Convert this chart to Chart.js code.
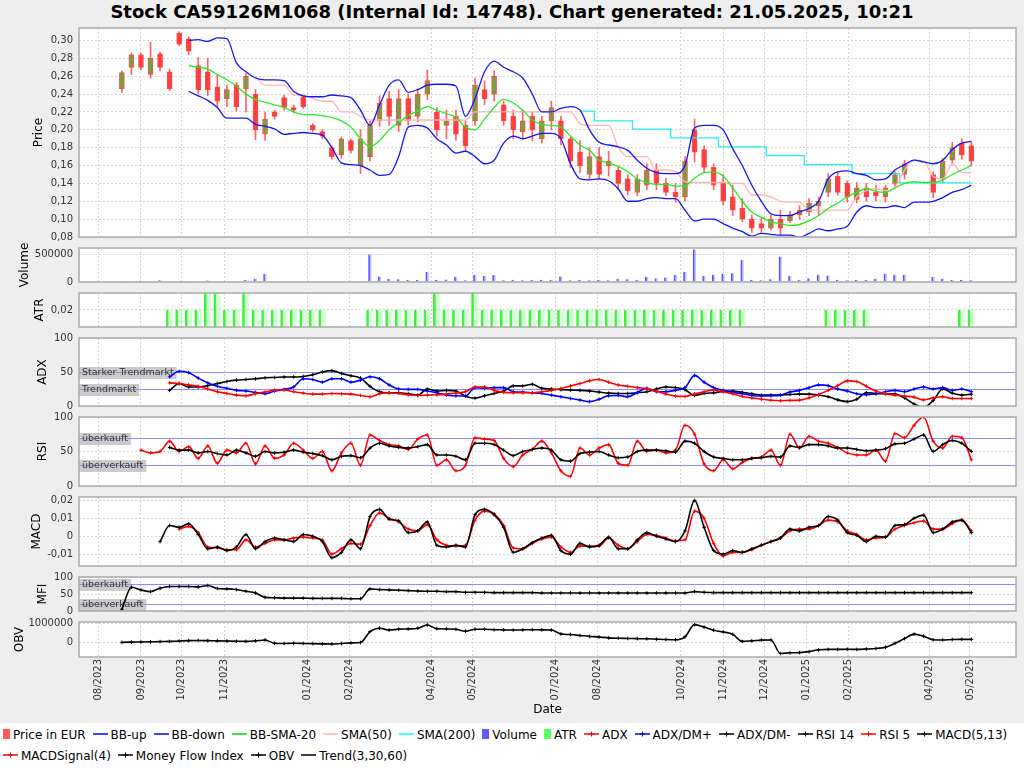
<!DOCTYPE html>
<html><head><meta charset="utf-8">
<script src="https://cdn.jsdelivr.net/npm/chart.js@4.4.1/dist/chart.umd.min.js"></script>
<style>
html,body{margin:0;padding:0;background:#eeeeee;width:1024px;height:768px;overflow:hidden;font-family:"DejaVu Sans",sans-serif;}
#title{position:absolute;left:0;top:0;width:1024px;text-align:center;font-weight:bold;font-size:18px;line-height:24px;color:#000;}
canvas.pc{position:absolute;left:0;}
#legend{position:absolute;left:0;top:723px;width:1024px;height:45px;background:#fff;font-size:12px;color:#000;}
.row{position:absolute;left:3px;white-space:nowrap;height:16px;line-height:16px;}
.it{display:inline-block;margin-right:7px;vertical-align:middle;}
.it svg{vertical-align:middle;margin-right:3px;position:relative;top:-1px;}
</style></head><body>
<div id="title">Stock CA59126M1068 (Internal Id: 14748). Chart generated: 21.05.2025, 10:21</div>
<div id="panels"></div>
<div id="legend"><div class="row" id="row1" style="top:3px"></div><div class="row" id="row2" style="top:24px"></div></div>
<script>
// ---------- data (weekly readings) ----------
const dates = ['2023-08-18','2023-08-25','2023-09-01','2023-09-08','2023-09-15','2023-09-22','2023-09-29','2023-10-06','2023-10-13','2023-10-20','2023-10-27','2023-11-03','2023-11-10','2023-11-17','2023-11-24','2023-12-01','2023-12-08','2023-12-15','2023-12-22','2023-12-29','2024-01-05','2024-01-12','2024-01-19','2024-01-26','2024-02-02','2024-02-09','2024-02-16','2024-02-23','2024-03-01','2024-03-08','2024-03-15','2024-03-22','2024-03-29','2024-04-05','2024-04-12','2024-04-19','2024-04-26','2024-05-03','2024-05-10','2024-05-17','2024-05-24','2024-05-31','2024-06-07','2024-06-14','2024-06-21','2024-06-28','2024-07-05','2024-07-12','2024-07-19','2024-07-26','2024-08-02','2024-08-09','2024-08-16','2024-08-23','2024-08-30','2024-09-06','2024-09-13','2024-09-20','2024-09-27','2024-10-04','2024-10-11','2024-10-18','2024-10-25','2024-11-01','2024-11-08','2024-11-15','2024-11-22','2024-11-29','2024-12-06','2024-12-13','2024-12-20','2024-12-27','2025-01-03','2025-01-10','2025-01-17','2025-01-24','2025-01-31','2025-02-07','2025-02-14','2025-02-21','2025-02-28','2025-03-07','2025-03-14','2025-03-21','2025-03-28','2025-04-04','2025-04-11','2025-04-18','2025-04-25','2025-05-02'];

const openP = [.246,.270,.284,.262,.285,.265,.308,.302,.272,.265, .248,.235,.250,.246,.240,.195,.220,.236,.225,.237, .205,.198,.180,.172,.188,.160,.170,.210,.235,.205, .235,.215,.240,.220,.205,.215,.205,.210,.245,.240, .228,.215,.198,.215,.190,.210,.210,.190,.175,.150, .170,.160,.155,.145,.130,.138,.155,.140,.130,.125, .200,.178,.158,.140,.125,.112,.100,.095,.090,.100, .098,.105,.108,.115,.130,.148,.140,.122,.135,.130, .125,.140,.150,null,null,.150,.145,.166,.185,.182];
const highP = [.266,.286,.286,.298,.287,.268,.310,.304,.281,.280, .262,.250,.253,.263,.245,.220,.222,.239,.228,.238, .207,.200,.182,.192,.190,.200,.210,.238,.243,.245, .240,.245,.267,.225,.222,.222,.210,.258,.255,.266, .232,.222,.222,.220,.215,.232,.215,.192,.188,.180, .180,.176,.158,.150,.150,.162,.162,.146,.140,.170, .212,.182,.162,.150,.138,.123,.105,.101,.105,.110, .109,.115,.123,.125,.151,.152,.143,.141,.140,.138, .138,.153,.166,null,null,.153,.168,.186,.190,.187];
const lowP = [.242,.262,.267,.258,.266,.244,.294,.284,.240,.238, .226,.226,.221,.220,.189,.188,.212,.222,.219,.224, .198,.190,.167,.168,.174,.151,.165,.204,.205,.198, .205,.209,.234,.193,.190,.188,.176,.205,.228,.232, .205,.190,.190,.188,.185,.200,.183,.158,.152,.145, .145,.148,.133,.127,.126,.133,.133,.126,.119,.120, .164,.152,.133,.116,.104,.097,.085,.085,.088,.082, .096,.100,.104,.104,.125,.127,.119,.118,.120,.120, .119,.137,.145,null,null,.124,.141,.163,.167,.160];
const closeP = [.264,.284,.270,.280,.270,.246,.296,.288,.245,.245, .232,.245,.226,.260,.200,.212,.215,.225,.222,.226, .200,.193,.170,.190,.177,.190,.205,.230,.215,.235, .210,.240,.255,.200,.210,.195,.182,.250,.235,.260, .210,.200,.210,.200,.210,.225,.190,.165,.160,.170, .150,.165,.140,.132,.145,.155,.140,.130,.125,.165, .175,.158,.138,.120,.110,.100,.090,.090,.100,.090, .105,.110,.118,.120,.145,.130,.125,.135,.125,.126, .135,.150,.162,null,null,.130,.165,.180,.172,.165];

const bbUp = [null,null,null,null,null,null,null,.300,.301,.299, .303,.302,.275,.265,.258,.256,.256,.255,.243,.238, .237,.237,.239,.238,.236,.222,.205,.228,.250,.256, .242,.245,.250,.251,.251,.249,.215,.235,.265,.277, .270,.265,.258,.240,.220,.220,.224,.226,.222,.200, .186,.183,.181,.177,.166,.157,.152,.151,.151,.160, .202,.205,.205,.200,.179,.160,.138,.120,.106,.104, .104,.108,.112,.120,.145,.153,.154,.151,.149,.144, .145,.155,.161,.166,.164,.162,.166,.178,.185,.187];
const bbDown = [null,null,null,null,null,null,null,.243,.238,.233, .225,.213,.213,.213,.206,.204,.201,.195,.196,.197, .196,.194,.180,.163,.161,.160,.155,.149,.150,.170, .203,.205,.202,.190,.183,.174,.176,.170,.162,.166, .185,.193,.190,.193,.196,.196,.190,.162,.145,.144, .145,.143,.134,.120,.120,.123,.124,.123,.123,.110, .098,.100,.100,.095,.090,.086,.081,.084,.083,.082, .082,.080,.084,.089,.087,.089,.092,.108,.115,.113, .113,.115,.113,.119,.119,.120,.124,.130,.133,.138];
const bbSma20 = [null,null,null,null,null,null,null,.272,.270,.268, .262,.256,.249,.240,.234,.231,.228,.225,.220,.217, .217,.216,.214,.210,.203,.190,.181,.188,.200,.208, .216,.221,.226,.222,.218,.214,.203,.200,.212,.225, .234,.230,.222,.211,.206,.205,.203,.193,.183,.177, .166,.163,.159,.153,.145,.141,.139,.139,.137,.137, .146,.152,.153,.148,.135,.120,.108,.102,.097,.095, .093,.094,.098,.104,.112,.118,.125,.130,.134,.131, .130,.135,.140,.142,.141,.141,.144,.150,.155,.160];
const sma50 = [null,null,null,null,null,null,null,null,null,null, null,null,null,null,.260,.250,.250,.250,.239,.239, .235,.232,.232,.220,.220,.215,.211,.211,.211,.211, .211,.211,.211,.211,.211,.211,.211,.220,.220,.220, .220,.220,.220,.220,.220,.220,.220,.220,.207,.205, .205,.205,.181,.170,.170,.170,.155,.155,.153,.142, .141,.141,.141,.141,.140,.140,.127,.127,.125,.120, .119,.119,.110,.110,.110,.110,.110,.125,.132,.134, .132,.135,.155,.166,.165,.148,.145,.162,.152,.152];
const sma200 = [null,null,null,null,null,null,null,null,null,null, null,null,null,null,null,null,null,null,null,null, null,null,null,null,null,null,null,null,null,null, null,null,null,null,null,null,null,null,null,null, null,null,null,null,null,null,null,null,.221,.221, .210,.210,.210,.210,.2007,.2007,.2007,.2007,.191,.191, .191,.191,.191,.181,.181,.181,.181,.181,.171,.171, .171,.171,.161,.161,.161,.161,.161,.151,.151,.151, .151,.151,.1405,.1405,.1405,.1405,.1405,.1405,.1405,.1405];

const volume = [18000,15000,20000,10000,30000,12000,15000,20000,15000,25000, 12000,10000,15000,36000,60000,150000,15000,12000,10000,15000, 10000,8000,12000,15000,10000,20000,500000,100000,60000,50000, 40000,35000,180000,40000,45000,95000,30000,130000,110000,125000, 30000,40000,30000,35000,40000,40000,100000,30000,35000,30000, 40000,30000,60000,50000,40000,89000,70000,80000,130000,180000, 590000,110000,130000,150000,160000,400000,40000,30000,50000,460000, 113000,40000,70000,130000,120000,40000,30000,40000,35000,60000, 150000,130000,130000,null,null,89000,60000,40000,35000,30000];
const atr = [null,null,null,null,null,.02,.02,.02,.02,.03, .03,.02,.02,.03,.02,.02,.02,.02,.02,.02, .02,.02,.0105,null,.0105,.0105,.02,.02,.02,.02, .02,.02,.02,.03,.02,.02,.02,.03,.02,.02, .02,.02,.02,.02,.02,.02,.02,.02,.02,.02, .02,.02,.02,.02,.02,.02,.02,.02,.02,.02, .02,.02,.02,.02,.02,.02,.0105,.0105,.0105,.0105, .0105,.0105,.0105,.0105,.02,.02,.02,.02,.02,.0105, .0105,.0105,.0105,null,null,.0105,.0105,.0105,.02,.02];

const adx = [null,null,null,null,null,34,33,31,29,25, 21,18.5,16,15,18,20.5,23.5,23.5,21,19, 17.5,17.5,18.4,18,17.5,15.5,13.6,18,19.5,18.5, 16.5,15.5,16,16.5,17.5,19,21,28,28,23, 20,19.4,19.4,19.4,21,23,25.7,29.5,33,37, 39,35,31,29,27,25.5,22,17.5,14.5,14, 18,21,23.5,21,18,14,12,10,8.5,7.8, 8.2,8.7,12,17,23,30,37,36,29,22, 18,16,14.5,13,9,12,13.6,11,11,11];
const dmPlus = [null,null,null,null,null,43,51,49,41,34, 29,26,23,22,20,18,22,24.5,28,40, 39,35,40,40,35,38,43,40,31,25, 24.5,24.5,22,19.5,16,15,14.6,27,26,27, 27,21,20.5,19.5,18.5,16,13.6,11,8.7,6.5, 10,15,15.5,13.6,20,26,21,21,23,27, 45,35,27,23,20,18,15.5,14.6,15,16, 20.5,23,27,31,30,25,22,18,16.5,18, 21,23,21,25,28,25,27,23,25,21];
const dmMinus = [null,null,null,null,null,23,33,28,28,30, 33,36,38,39,40,41.5,42,42.7,42.7,43.5, 46,50,52,48,44.5,41,29,21,19.5,19.4, 18,16,25,22,23,22,14.5,11.5,15,18.5, 22,29.6,29.5,32,26,25,24,23.5,23,22, 20.5,19,18.4,18.4,19.5,21,25,28,27,24, 15.5,18.5,19.4,21.5,22,20,18,16,16,16, 17,17.5,17.5,16,13.6,9,6.5,10,19.5,18.4, 18,17.5,12,3,-2,8,25,19,16,17.5];

const rsi5 = [null,null,52,48,50,65,50,57,40,58, 33,52,48,62,32,58,40,45,62,52, 40,50,22,48,62,30,74,66,60,58, 53,68,74,30,38,22,30,70,68,66, 40,28,45,53,65,48,22,14,55,45, 55,60,33,30,65,50,52,48,52,88, 75,32,22,38,25,34,40,42,52,30, 75,55,72,65,62,56,48,45,45,52, 36,76,70,88,100,65,55,72,70,38];
const rsi14 = [null,null,null,null,null,56,52,52,48,50, 47,45,52,48,43,50,48,49,52,49, 47,44,38,43,44,41,55,62,58,56, 55,57,60,45,45,43,38,62,62,60, 52,44,50,53,55,52,38,36,47,49, 50,45,41,42,50,52,52,51,49,65, 62,50,42,40,38,38,40,41,43,42, 58,56,60,60,58,55,55,53,51,52, 54,61,62,68,74,50,60,66,62,50];

const macd = [null,null,null,null,-0.003,0.006,0.005,0.007,0.001,-0.007, -0.006,-0.008,-0.006,0.001,-0.007,-0.003,-0.001,-0.002,-0.003,0.001, 0,-0.003,-0.012,-0.009,-0.002,-0.007,0.011,0.015,0.0095,0.0086, 0.002,0.003,0.008,-0.005,-0.006,-0.005,-0.006,0.012,0.015,0.012, 0.005,-0.009,-0.007,-0.0035,-0.001,0.0005,-0.008,-0.01,-0.004,-0.006, -0.005,-0.0005,-0.007,-0.007,-0.002,0.002,0,-0.0015,-0.003,0.003, 0.020,0.005,-0.008,-0.01,-0.008,-0.009,-0.007,-0.005,-0.003,-0.001, 0.004,0.003,0.005,0.006,0.011,0.009,0.002,0.0005,-0.003,0, -0.0005,0.006,0.0065,0.01,0.0118,0.002,0.004,0.008,0.009,0.002];
const macdSignal = [null,null,null,null,null,null,0.004,0.0055,0.002,-0.006, -0.0065,-0.0075,-0.0075,-0.002,-0.006,-0.004,-0.002,-0.002,-0.001,-0.0005, -0.001,-0.002,-0.01,-0.007,-0.004,-0.0045,0.006,0.013,0.01,0.008, 0.004,0.003,0.0065,-0.002,-0.005,-0.0055,-0.005,0.009,0.014,0.0125, 0.006,-0.0065,-0.007,-0.004,-0.0015,-0.0005,-0.006,-0.009,-0.0055,-0.0055, -0.0055,-0.001,-0.005,-0.007,-0.003,0.001,0.0005,-0.001,-0.0025,-0.002, 0.014,0.01,-0.004,-0.011,-0.009,-0.009,-0.0075,-0.005,-0.003,-0.001, 0.003,0.004,0.004,0.006,0.009,0.008,0.003,0.001,-0.002,-0.001, -0.0005,0.004,0.006,0.0075,0.0085,0.004,0.004,0.007,0.009,0.003];

const mfi = [5,70,62,57,67,72,72,72,71,75, 66,65,63,58,53,40,39,38,38,38, 37,37,37,37,36,36,65,63,62,61, 60,59,58,58,57,57,55,55,55,54, 54,54,54,54,53,53,53,53,53,53, 53,53,53,53,53,53,53,53,53,53, 57,55,54,54,54,54,54,54,54,54, 54,54,54,54,54,54,54,54,54,54, 54,54,54,54,54,54,54,54,54,54];
const obv = [0,10000,20000,30000,40000,50000,70000,90000,100000,90000, 80000,70000,60000,50000,80000,130000,-50000,-60000,-50000,-60000, -70000,-80000,-90000,-60000,-30000,-10000,580000,760000,660000,710000, 720000,760000,930000,730000,720000,700000,600000,700000,700000,680000, 670000,660000,670000,680000,670000,660000,450000,420000,370000,320000, 290000,240000,220000,210000,200000,190000,170000,150000,140000,300000, 950000,820000,650000,560000,430000,50000,80000,120000,130000,-600000, -560000,-550000,-500000,-400000,-380000,-380000,-370000,-380000,-360000,-330000, -260000,-50000,200000,440000,330000,140000,130000,150000,160000,160000];

// tick labels
const tickMonths = ['2023-08','2023-09','2023-10','2023-11','2024-01','2024-02','2024-04','2024-05','2024-07','2024-08','2024-10','2024-11','2024-12','2025-01','2025-02','2025-04','2025-05'];
const priceTicks = [0.08,0.10,0.12,0.14,0.16,0.18,0.20,0.22,0.24,0.26,0.28,0.30];
const volumeTicks = [0,500000];
const atrTicks = [0.02];
const pctTicks = [0,50,100];
const macdTicks = [-0.01,0,0.01,0.02];
const obvTicks = [0,1000000];

// ---------- helpers ----------
const FONT = '"DejaVu Sans", sans-serif';
Chart.defaults.font.family = FONT;
Chart.defaults.color = '#333';
const DAY = 864e5;
const toMs = s => { const p = s.split('-').map(Number); return Date.UTC(p[0], p[1]-1, p[2] || 1); };
const xs = dates.map(toMs);
const X_MIN = toMs('2023-08-01') - 14.45*DAY;
const X_MAX = toMs('2025-05-01') + 33.75*DAY;
const pts = arr => xs.map((x,i) => ({x, y: arr[i]}));
const comma = (v,d) => v === 0 ? '0' : v.toFixed(d).replace('.', ',');

function makeDeco(refs){
  return {
    id:'deco',
    beforeDraw(chart){ const {ctx, chartArea:a} = chart; ctx.save(); ctx.fillStyle='#fff'; ctx.fillRect(a.left,a.top,a.right-a.left,a.bottom-a.top); ctx.restore(); },
    beforeDatasetsDraw(chart){
      if(!refs) return;
      const {ctx, chartArea:a} = chart; const y = chart.scales.y;
      ctx.save();
      refs.forEach(r => {
        const py = Math.round(y.getPixelForValue(r.v)) + 0.5;
        ctx.strokeStyle = '#8c8cff'; ctx.lineWidth = 1;
        ctx.beginPath(); ctx.moveTo(a.left, py); ctx.lineTo(a.right, py); ctx.stroke();
        ctx.font = '9.5px ' + FONT;
        const w = ctx.measureText(r.t).width;
        ctx.fillStyle = 'rgba(160,160,160,0.55)';
        ctx.fillRect(a.left, py - 5.5, w + 6, 12);
        ctx.fillStyle = '#333'; ctx.textBaseline = 'middle'; ctx.textAlign = 'left';
        ctx.fillText(r.t, a.left + 3, py + 0.5);
      });
      ctx.restore();
    },
    afterDraw(chart){ const {ctx, chartArea:a} = chart; ctx.save(); ctx.strokeStyle='#ababab'; ctx.lineWidth=1.5; ctx.strokeRect(a.left, a.top, a.right-a.left, a.bottom-a.top); ctx.restore(); }
  };
}

function xScale(last){
  return {
    type:'linear', min:X_MIN, max:X_MAX, offset:false,
    afterBuildTicks(s){ s.ticks = tickMonths.map(m => ({value: toMs(m)})); },
    ticks:{ display:last, autoSkip:false, maxRotation:90, minRotation:90, padding:2, font:{size:10}, color:'#333',
      callback(v){ const d = new Date(v); return String(d.getUTCMonth()+1).padStart(2,'0') + '/' + d.getUTCFullYear(); } },
    grid:{ color:'#d4d4d4', drawTicks:false, offset:false },
    border:{ display:false, dash:[2,2] },
    title:{ display:last, text:'Date', color:'#000', font:{size:12}, padding:{top:0, bottom:5} },
    afterFit(s){ s.height = last ? 65 : 0; }
  };
}
function yScale(p){
  return {
    type:'linear', min:p.min, max:p.max,
    afterBuildTicks(s){ s.ticks = p.ticks.map(v => ({value:v})); },
    ticks:{ padding:6, font:{size:10}, color:'#333', callback: v => p.fmt(v) },
    grid:{ color:'#d4d4d4', drawTicks:false },
    border:{ display:false, dash:[2,2] },
    title:{ display:true, text:p.title, color:'#000', font:{size:12}, padding:{top:p.tp, bottom:0} },
    afterFit(s){ s.width = 79; s.paddingTop = 0; s.paddingBottom = 0; }
  };
}
function panel(p){
  const c = document.createElement('canvas');
  const top = p.top - 8;
  const h = p.last ? (722 - top) : (p.bottom - p.top + 16);
  c.width = 1024; c.height = h; c.className = 'pc'; c.style.top = top + 'px';
  document.getElementById('panels').appendChild(c);
  new Chart(c, {
    type:'line',
    data:{ datasets: p.datasets },
    options:{
      responsive:false, animation:false, devicePixelRatio:1,
      layout:{ padding:{ left:0, right:8, top:8, bottom: p.last ? 0 : 8 } },
      plugins:{ legend:{display:false}, tooltip:{enabled:false} },
      scales:{ x: xScale(!!p.last), y: yScale(p) }
    },
    plugins:[ makeDeco(p.refs) ]
  });
}
const line = (label, arr, color, w, extra) => Object.assign({type:'line', label, data:pts(arr), borderColor:color, backgroundColor:color, borderWidth:w, pointRadius:0, cubicInterpolationMode:'monotone', fill:false, order:1}, extra || {});
const ind = (label, arr, color) => line(label, arr, color, 1.6, {pointRadius:1.8, pointStyle:'cross', pointBorderWidth:1, pointBorderColor:color});

// candles
const idx = xs.map((x,i) => i).filter(i => openP[i] != null);
const wicks = idx.map(i => ({x:xs[i], y:[lowP[i], highP[i]]}));
const bodies = idx.map(i => ({x:xs[i], y:[Math.min(openP[i],closeP[i]), Math.max(openP[i],closeP[i])]}));
const bodyColors = idx.map(i => closeP[i] > openP[i] ? '#74a040' : 'rgba(255,50,50,0.85)');

const pct = v => String(v);
panel({ top:28, bottom:237, title:'Price', tp:32, min:0.08, max:0.314, ticks:priceTicks, fmt: v => comma(v,2),
  datasets:[
    line('BB-up', bbUp, '#1414ff', 1.3),
    line('BB-down', bbDown, '#1414ff', 1.3),
    line('BB-SMA-20', bbSma20, '#22ee22', 1.3),
    line('SMA(50)', sma50, '#ffb4b4', 1.3),
    line('SMA(200)', sma200, '#22f0f0', 1.3, {stepped:'middle', cubicInterpolationMode:'default'}),
    {type:'bar', label:'wick', data:wicks, backgroundColor:'rgba(255,70,70,0.85)', barThickness:1, grouped:false, order:3, borderSkipped:false},
    {type:'bar', label:'Price in EUR', data:bodies, backgroundColor:bodyColors, borderColor:'rgba(255,60,60,0.9)', borderWidth:1, barThickness:5, grouped:false, order:2, borderSkipped:false}
  ]});
panel({ top:248, bottom:282, title:'Volume', tp:18, min:0, max:616000, ticks:volumeTicks, fmt: v => String(v),
  datasets:[ {type:'bar', label:'Volume', data:pts(volume).filter(d => d.y != null), backgroundColor:'rgba(120,120,255,0.45)', borderColor:'#4a4aff', borderWidth:{left:1,right:0,top:0,bottom:0}, borderSkipped:false, barThickness:3, grouped:false} ]});
panel({ top:293, bottom:327, title:'ATR', tp:33, min:0.01, max:0.03, ticks:atrTicks, fmt: v => comma(v,2),
  datasets:[ {type:'bar', label:'ATR', data:pts(atr).filter(d => d.y != null), backgroundColor:'rgba(130,255,130,0.32)', borderColor:'#3cf03c', borderWidth:{left:2,right:0,top:0,bottom:0}, borderSkipped:false, barThickness:7, grouped:false} ]});
panel({ top:338, bottom:406, title:'ADX', tp:36, min:0, max:100, ticks:pctTicks, fmt:pct,
  refs:[{v:50, t:'Starker Trendmarkt'}, {v:25, t:'Trendmarkt'}],
  datasets:[ ind('ADX', adx, '#ff0000'), ind('ADX/DM+', dmPlus, '#0000ff'), ind('ADX/DM-', dmMinus, '#000000') ]});
panel({ top:417, bottom:486, title:'RSI', tp:36, min:0, max:100, ticks:pctTicks, fmt:pct,
  refs:[{v:70, t:'überkauft'}, {v:30, t:'überverkauft'}],
  datasets:[ ind('RSI 14', rsi14, '#000000'), ind('RSI 5', rsi5, '#ff0000') ]});
panel({ top:497, bottom:566, title:'MACD', tp:30, min:-0.0166, max:0.0219, ticks:macdTicks, fmt: v => comma(v,2),
  datasets:[ ind('MACD(5,13)', macd, '#000000'), ind('MACDSignal(4)', macdSignal, '#ff0000') ]});
panel({ top:577, bottom:611, title:'MFI', tp:36, min:0, max:100, ticks:pctTicks, fmt:pct,
  refs:[{v:80, t:'überkauft'}, {v:20, t:'überverkauft'}],
  datasets:[ ind('Money Flow Index', mfi, '#000000') ]});
panel({ top:622, bottom:657, title:'OBV', tp:13, min:-787000, max:1093000, ticks:obvTicks, fmt: v => String(v), last:true,
  datasets:[ ind('OBV', obv, '#000000') ]});

// ---------- legend ----------
const legendRow1 = [
  ['Price in EUR','rect','#ff5a5a'], ['BB-up','line','#0000ff'], ['BB-down','line','#0000ff'], ['BB-SMA-20','line','#00dd00'],
  ['SMA(50)','line','#ffb0b0'], ['SMA(200)','line','#00ffff'], ['Volume','rect','#5a5aff'], ['ATR','rect','#5aff5a'],
  ['ADX','cross','#ff0000'], ['ADX/DM+','cross','#0000ff'], ['ADX/DM-','cross','#000'], ['RSI 14','cross','#000'],
  ['RSI 5','cross','#ff0000'], ['MACD(5,13)','cross','#000']];
const legendRow2 = [['MACDSignal(4)','cross','#ff0000'], ['Money Flow Index','cross','#000'], ['OBV','cross','#000'], ['Trend(3,30,60)','line','#000']];
function sym(k, c){
  if (k === 'rect') return '<svg width="7" height="10"><rect x="0" y="0" width="7" height="10" fill="'+c+'"/></svg>';
  if (k === 'line') return '<svg width="15" height="10"><line x1="0" y1="5" x2="15" y2="5" stroke="'+c+'" stroke-width="1.5"/></svg>';
  return '<svg width="15" height="10"><line x1="0" y1="5" x2="15" y2="5" stroke="'+c+'" stroke-width="1.5"/><path d="M7.5 2.5 V7.5 M5 5 H10" stroke="'+c+'" stroke-width="1"/></svg>';
}
function fillRow(id, items){ document.getElementById(id).innerHTML = items.map(it => '<span class="it">'+sym(it[1], it[2])+it[0]+'</span>').join(''); }
fillRow('row1', legendRow1); fillRow('row2', legendRow2);
</script>
</body></html>
